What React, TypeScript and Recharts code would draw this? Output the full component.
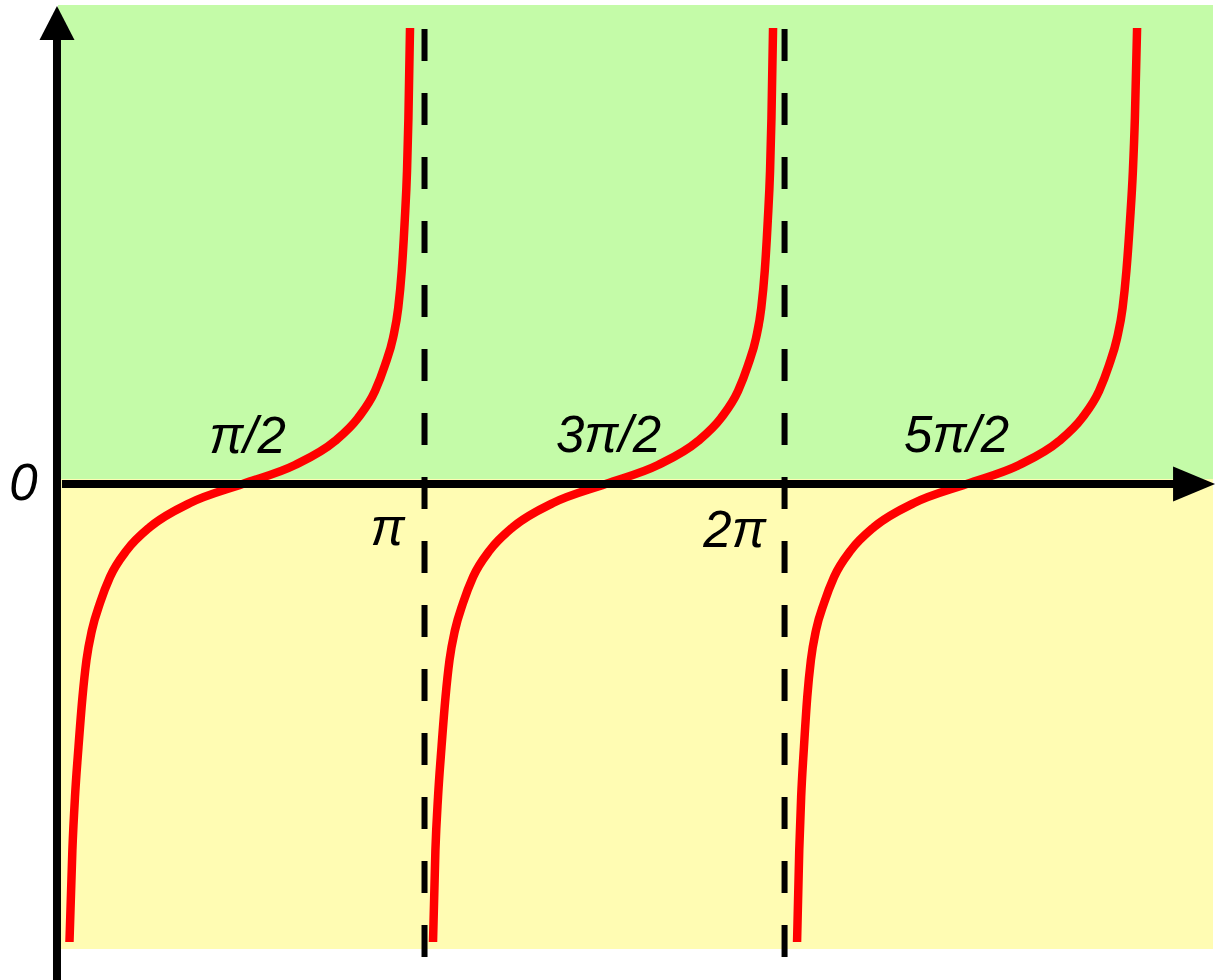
import React from 'react';
import { ComposedChart, Line, XAxis, YAxis, ReferenceArea, ReferenceLine, ReferenceDot } from 'recharts';

// x in units of π, y in function units
const branch1 = [
  { x: 0.01389, y: -11.45 }, { x: 0.02194, y: -9.15 }, { x: 0.02917, y: -7.825 }, { x: 0.03889, y: -6.575 },
  { x: 0.05, y: -5.325 }, { x: 0.06111, y: -4.4 }, { x: 0.07639, y: -3.65 }, { x: 0.09861, y: -2.975 },
  { x: 0.12639, y: -2.325 }, { x: 0.17361, y: -1.65 }, { x: 0.2375, y: -1.075 }, { x: 0.34861, y: -0.475 },
  { x: 0.49444, y: 0 },
  { x: 0.64028, y: 0.475 }, { x: 0.75139, y: 1.075 }, { x: 0.81528, y: 1.65 }, { x: 0.8625, y: 2.325 },
  { x: 0.89028, y: 2.975 }, { x: 0.9125, y: 3.65 }, { x: 0.92694, y: 4.4 }, { x: 0.93667, y: 5.325 },
  { x: 0.945, y: 6.575 }, { x: 0.95139, y: 7.825 }, { x: 0.95528, y: 9.15 }, { x: 0.95972, y: 11.4 },
];
const branch2 = [
  { x: 1.02361, y: -11.45 }, { x: 1.03027, y: -9.15 }, { x: 1.0375, y: -7.825 }, { x: 1.04722, y: -6.575 },
  { x: 1.05833, y: -5.325 }, { x: 1.06944, y: -4.4 }, { x: 1.08472, y: -3.65 }, { x: 1.10694, y: -2.975 },
  { x: 1.13472, y: -2.325 }, { x: 1.18194, y: -1.65 }, { x: 1.24583, y: -1.075 }, { x: 1.35694, y: -0.475 },
  { x: 1.50277, y: 0 },
  { x: 1.64861, y: 0.475 }, { x: 1.75972, y: 1.075 }, { x: 1.82361, y: 1.65 }, { x: 1.87083, y: 2.325 },
  { x: 1.89861, y: 2.975 }, { x: 1.92083, y: 3.65 }, { x: 1.93527, y: 4.4 }, { x: 1.945, y: 5.325 },
  { x: 1.95333, y: 6.575 }, { x: 1.95972, y: 7.825 }, { x: 1.96361, y: 9.15 }, { x: 1.96805, y: 11.4 },
];
const branch3 = [
  { x: 2.03472, y: -11.45 }, { x: 2.04083, y: -9.15 }, { x: 2.04611, y: -7.825 }, { x: 2.05389, y: -6.575 },
  { x: 2.06305, y: -5.325 }, { x: 2.07319, y: -4.4 }, { x: 2.0875, y: -3.65 }, { x: 2.10972, y: -2.975 },
  { x: 2.1375, y: -2.325 }, { x: 2.18472, y: -1.65 }, { x: 2.24861, y: -1.075 }, { x: 2.35972, y: -0.475 },
  { x: 2.50555, y: 0 },
  { x: 2.65139, y: 0.475 }, { x: 2.7625, y: 1.075 }, { x: 2.82639, y: 1.65 }, { x: 2.87361, y: 2.325 },
  { x: 2.90139, y: 2.975 }, { x: 2.92361, y: 3.65 }, { x: 2.93888, y: 4.4 }, { x: 2.94945, y: 5.325 },
  { x: 2.95944, y: 6.575 }, { x: 2.9675, y: 7.825 }, { x: 2.97305, y: 9.15 }, { x: 2.97916, y: 11.4 },
];

const asymptotes = [1, 2];
const tickValues = [0.5, 1, 1.5, 2, 2.5];
const tickLabels = ['π/2', 'π', '3π/2', '2π', '5π/2'];
const originLabel = '0';

const XMIN = -0.018;
const XMAX = 3.19;
const YMIN = -11.625;
const YMAX = 11.975;
const BG_SPLIT = 0.125;

const GREEN = '#c4fba8';
const YELLOW = '#fffcb3';
const RED = '#ff0000';
const FONT = '"Liberation Sans", Arial, Helvetica, sans-serif';

// label offsets (pixels) relative to the tick point on the x axis
const labelOffsets: Record<string, [number, number]> = {
  'π/2': [3, -31],
  'π': [-37, 61],
  '3π/2': [4, -32],
  '2π': [-50, 63],
  '5π/2': [-8, -32],
};

export default function App() {
  return (
    <div style={{ position: 'absolute', left: 0, top: 0 }}>
      <ComposedChart width={1230} height={980} margin={{ top: 5, right: 17, bottom: 31, left: 58 }}>
        <XAxis type="number" dataKey="x" domain={[XMIN, XMAX]} hide allowDataOverflow />
        <YAxis type="number" dataKey="y" domain={[YMIN, YMAX]} hide allowDataOverflow />
        <ReferenceArea x1={XMIN} x2={XMAX} y1={BG_SPLIT} y2={YMAX} fill={GREEN} fillOpacity={1} stroke="none" />
        <ReferenceArea x1={XMIN} x2={XMAX} y1={YMIN} y2={BG_SPLIT} fill={YELLOW} fillOpacity={1} stroke="none" />

        <Line data={branch1} dataKey="y" type="monotone" stroke={RED} strokeWidth={8.5} dot={false} activeDot={false} isAnimationActive={false} />
        <Line data={branch2} dataKey="y" type="monotone" stroke={RED} strokeWidth={8.5} dot={false} activeDot={false} isAnimationActive={false} />
        <Line data={branch3} dataKey="y" type="monotone" stroke={RED} strokeWidth={8.5} dot={false} activeDot={false} isAnimationActive={false} />

        {asymptotes.map((a) => (
          <ReferenceLine
            key={'as' + a}
            segment={[{ x: a, y: 11.375 }, { x: a, y: -11.825 }]}
            stroke="#000"
            strokeWidth={6}
            strokeDasharray="32 32"
            ifOverflow="visible"
          />
        ))}

        {/* y axis */}
        <ReferenceLine segment={[{ x: -0.0208, y: 11.2 }, { x: -0.0208, y: -12.5 }]} stroke="#000" strokeWidth={8} ifOverflow="visible" />
        <ReferenceDot
          x={-0.0208}
          y={11.95}
          r={1}
          ifOverflow="visible"
          shape={(p: any) => (
            <polygon points={`${p.cx},${p.cy} ${p.cx - 17.5},${p.cy + 34} ${p.cx + 17.5},${p.cy + 34}`} fill="#000" />
          )}
        />
        {/* x axis */}
        <ReferenceLine segment={[{ x: -0.007, y: 0 }, { x: 3.09, y: 0 }]} stroke="#000" strokeWidth={8} ifOverflow="visible" />
        <ReferenceDot
          x={3.1958}
          y={0}
          r={1}
          ifOverflow="visible"
          shape={(p: any) => (
            <polygon points={`${p.cx},${p.cy} ${p.cx - 42},${p.cy - 17.5} ${p.cx - 42},${p.cy + 17.5}`} fill="#000" />
          )}
        />

        {tickValues.map((t, i) => (
          <ReferenceDot
            key={'lbl' + t}
            x={t}
            y={0}
            r={1}
            ifOverflow="visible"
            shape={(p: any) => (
              <text
                x={p.cx + labelOffsets[tickLabels[i]][0]}
                y={p.cy + labelOffsets[tickLabels[i]][1]}
                textAnchor="middle"
                fontFamily={FONT}
                fontStyle="italic"
                fontSize={51}
                fill="#000"
              >
                {tickLabels[i]}
              </text>
            )}
          />
        ))}
        <ReferenceDot
          x={0}
          y={0}
          r={1}
          ifOverflow="visible"
          shape={(p: any) => (
            <text x={p.cx - 41} y={p.cy + 16} textAnchor="middle" fontFamily={FONT} fontStyle="italic" fontSize={51} fill="#000">
              {originLabel}
            </text>
          )}
        />
      </ComposedChart>
    </div>
  );
}
